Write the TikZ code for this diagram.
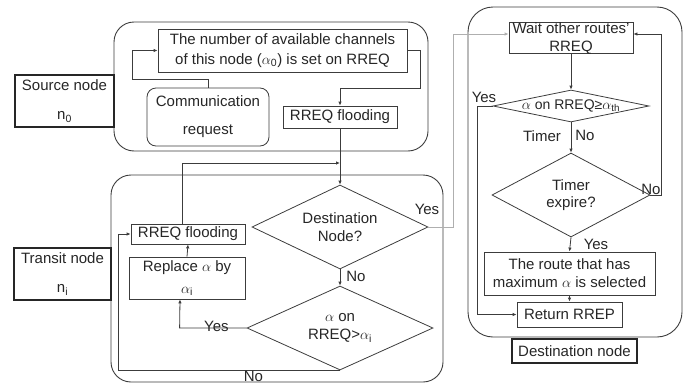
\documentclass[tikz,border=0pt]{standalone}
\usepackage{fontspec}
\setmainfont{Liberation Sans}
\usetikzlibrary{shapes,arrows,positioning,calc,arrows.meta}
\definecolor{linegray}{RGB}{60,60,60}
\definecolor{lightgray2}{RGB}{175,175,175}

\begin{document}
\begin{tikzpicture}[x=1pt, y=-1pt,
    every node/.style={font=\fontsize{15}{18}\selectfont, text=black!85},
    box/.style={draw=linegray, line width=0.8pt, rectangle, inner sep=0pt, align=center},
    grp/.style={draw=linegray, line width=0.9pt, rectangle, rounded corners=20pt, inner sep=0pt},
    tag/.style={draw=black!85, line width=2.2pt, rectangle, inner sep=0pt, align=center},
    dia/.style={draw=linegray, line width=0.8pt, diamond, inner sep=0pt, align=center},
    arr/.style={-{Latex[length=4pt,width=3.5pt]}, draw=linegray, line width=0.8pt},
    lbl/.style={inner sep=0pt}]
    \useasboundingbox (0,0) rectangle (686,383);

    % Groups
    \node[grp, minimum width=314pt, minimum height=129pt] (srcgrp) at (271, 86.5) {};
    \node[grp, minimum width=332pt, minimum height=207pt] (trgrp) at (277, 278.5) {};
    \node[grp, rounded corners=25pt, minimum width=214pt, minimum height=330pt] (dstgrp) at (575, 172) {};

    % Source node
    \node[tag, minimum width=99pt, minimum height=52pt] (srctag) at (64.5, 101) {Source node\\[11pt]n\textsubscript{0}};
    \node[box, minimum width=249pt, minimum height=43pt] (chan) at (282.5, 50.5) {The number of available channels\\[2pt]of this node ($\alpha$\textsubscript{0}) is set on RREQ};
    \node[box, rounded corners=9pt, minimum width=122pt, minimum height=58pt] (comm) at (208, 117) {Communication\\[10pt]request};
    \node[box, minimum width=114pt, minimum height=22pt] (flood1) at (340, 117) {RREQ flooding};

    % Transit node
    \node[tag, minimum width=97pt, minimum height=52pt] (trtag) at (62.5, 274) {Transit node\\[11pt]n\textsubscript{i}};
    \node[box, minimum width=114pt, minimum height=20pt] (flood2) at (188, 234) {RREQ flooding};
    \node[box, minimum width=116pt, minimum height=42pt] (replace) at (187, 278) {Replace $\alpha$ by\\[4pt]$\alpha$\textsubscript{i}};
    \node[dia, aspect=2.1, minimum width=176pt, minimum height=84pt] (dest) at (340, 227) {Destination\\Node?};
    \node[dia, aspect=2.2, minimum width=186pt, minimum height=84pt] (cmp) at (340, 328) {$\alpha$ on\\RREQ\textgreater$\alpha$\textsubscript{i}};
    \coordinate (join) at (340, 163);

    % Destination node
    \node[box, minimum width=124pt, minimum height=30pt] (wait) at (571, 38) {Wait other routes'\\RREQ};
    \node[dia, aspect=4.9, minimum width=156pt, minimum height=32pt, font=\fontsize{14}{16}\selectfont] (thr) at (571, 106) {\makebox[0pt]{$\alpha$ on RREQ≥$\alpha$\textsubscript{th}}};
    \node[dia, aspect=1.9, minimum width=158pt, minimum height=84pt] (timer) at (571, 195) {Timer\\[-1pt]expire?};
    \node[box, minimum width=171pt, minimum height=43pt] (route) at (569.5, 273.5) {The route that has\\maximum $\alpha$ is selected};
    \node[box, minimum width=105pt, minimum height=25pt] (rrep) at (569.5, 314.5) {Return RREP};
    \node[tag, minimum width=125pt, minimum height=24pt] (dsttag) at (574.5, 351) {Destination node};

    % Connections
    \draw[arr] (comm.north) -- ++(0,-8) -| ([xshift=-25pt]chan.west) -- (chan.west);
    \draw[arr] (chan.east) -- ++(13,0) -- ++(0,37.5) -| (flood1.north);
    \draw[arr] (flood1.south) -- (dest.north);
    \draw[arr] ([xshift=-6pt]flood2.north) |- (join);
    \draw[arr] (dest.south) -- node[lbl, right=6pt, pos=0.45] {No} (cmp.north);
    \draw[arr] (cmp.west) -- node[lbl, above=-4pt, pos=0.45] {Yes} ++(-67,0) -- ([xshift=-7pt]replace.south);
    \draw[arr] (replace.north) -- (flood2.south);
    \draw[arr] (cmp.south) -- node[lbl, pos=0.39, below=0pt] {No} ++(-222,0) |- (flood2.west);
    \draw[arr, draw=lightgray2] (dest.east) -- ++(25,0) |- ([yshift=4pt]wait.west);
    \node[lbl] at (427, 209) {Yes};

    \draw[arr] (wait.south) -- (thr.north);
    \draw[arr] (thr.west) -- ++(-15,0) |- (rrep.west);
    \node[lbl] at (484, 97) {Yes};
    \draw[arr] (thr.south) -- (timer.north);
    \node[lbl] at (542, 136) {Timer};
    \node[lbl] at (585, 135) {No};
    \draw[arr] (timer.east) -- ++(11,0) |- ([yshift=4pt]wait.east);
    \node[lbl] at (651, 189) {No};
    \draw[arr] (timer.south) -- (route.north);
    \node[lbl] at (596, 244) {Yes};
    \draw[arr] (route.south) -- (rrep.north);

\end{tikzpicture}
\end{document}
